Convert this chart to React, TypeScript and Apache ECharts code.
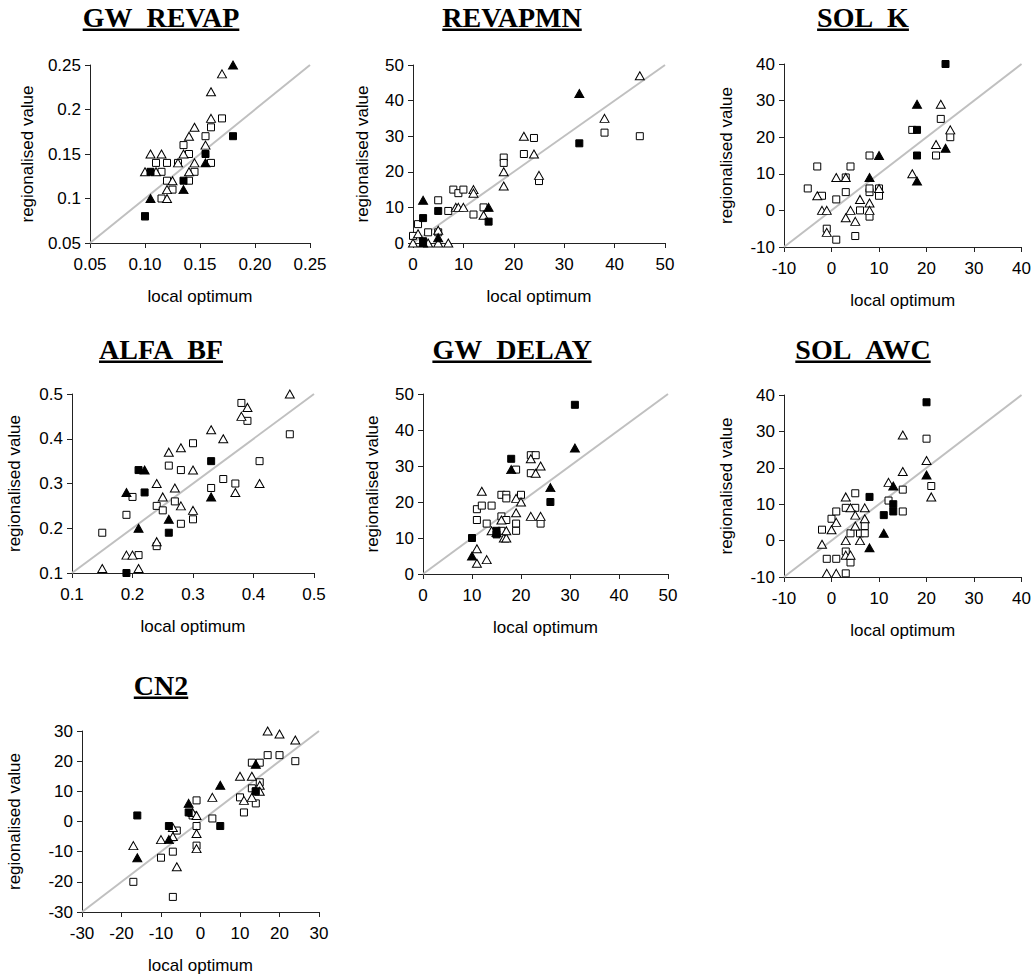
import React, { useEffect, useRef } from "react";
import * as echarts from "echarts";

// ---------- Data ----------
const panelTitles = ["GW_REVAP", "REVAPMN", "SOL_K", "ALFA_BF", "GW_DELAY", "SOL_AWC", "CN2"];
const xAxisName = "local optimum";
const yAxisName = "regionalised value";
// [min, max, interval]
const axisRanges = [
  [0.05, 0.25, 0.05],
  [0, 50, 10],
  [-10, 40, 10],
  [0.1, 0.5, 0.1],
  [0, 50, 10],
  [-10, 40, 10],
  [-30, 30, 10],
];

// GW_REVAP
const gwRevapOpenSq = [[0.11,0.14],[0.12,0.14],[0.12,0.12],[0.115,0.13],[0.115,0.10],[0.125,0.11],[0.13,0.14],[0.135,0.16],[0.14,0.15],[0.14,0.12],[0.145,0.13],[0.155,0.17],[0.16,0.18],[0.16,0.14],[0.17,0.19],[0.10,0.08]];
const gwRevapOpenTri = [[0.10,0.13],[0.105,0.15],[0.115,0.15],[0.11,0.13],[0.12,0.10],[0.12,0.11],[0.125,0.12],[0.13,0.14],[0.135,0.15],[0.14,0.17],[0.145,0.18],[0.14,0.13],[0.145,0.14],[0.155,0.16],[0.16,0.19],[0.16,0.22],[0.17,0.24]];
const gwRevapFilledSq = [[0.105,0.13],[0.135,0.12],[0.155,0.15],[0.18,0.17],[0.10,0.08]];
const gwRevapFilledTri = [[0.105,0.10],[0.135,0.11],[0.155,0.14],[0.18,0.25]];

// REVAPMN
const revapmnOpenSq = [[0,2],[1,5.3],[3,3],[5,12],[5,3],[7,9],[8,15],[9,14],[10,15],[12,8],[14,10],[18,24],[18,22.5],[22,25],[24,29.5],[25,17.4],[38,31],[45,30]];
const revapmnOpenTri = [[0,0],[1,2.6],[3,0],[5,3.6],[5,0],[7,0],[8.5,10],[9,10],[10,10],[12,15],[12,14],[14,7.8],[18,16],[18,20],[22,30],[24,25],[25,19],[38,35],[45,47]];
const revapmnFilledSq = [[2,7],[5,9],[15,6],[33,28],[2,0.5]];
const revapmnFilledTri = [[2,12],[15,10],[33,42],[5,1.5],[2,0]];

// SOL_K
const solKOpenSq = [[-5,6],[-3,12],[-2,4],[-1,-5],[1,3],[1,-8],[3,5],[3,9],[4,12],[5,-7],[6,0],[8,15],[8,5],[8,-1.7],[8,6],[10,4],[10,6],[17,22],[22,15],[23,25],[25,20]];
const solKOpenTri = [[-3,4],[-2,0],[-1,0],[-1,-6],[1,9],[3,9],[3,-2],[4,0],[5,-3],[6,3],[8,2],[8,0],[10,6],[17,10],[22,18],[23,29],[25,22]];
const solKFilledSq = [[18,22],[18,15],[24,40]];
const solKFilledTri = [[8,9],[10,15],[18,29],[18,8],[24,17]];

// ALFA_BF
const alfaBfOpenSq = [[0.15,0.19],[0.19,0.23],[0.20,0.27],[0.21,0.14],[0.24,0.25],[0.24,0.16],[0.25,0.24],[0.26,0.34],[0.27,0.26],[0.28,0.33],[0.28,0.21],[0.30,0.39],[0.30,0.22],[0.33,0.29],[0.35,0.31],[0.37,0.30],[0.38,0.48],[0.39,0.44],[0.41,0.35],[0.46,0.41]];
const alfaBfOpenTri = [[0.15,0.11],[0.19,0.14],[0.20,0.14],[0.21,0.11],[0.24,0.30],[0.24,0.17],[0.25,0.27],[0.26,0.37],[0.27,0.29],[0.28,0.38],[0.28,0.25],[0.30,0.33],[0.30,0.24],[0.33,0.42],[0.35,0.40],[0.37,0.28],[0.38,0.45],[0.39,0.47],[0.41,0.30],[0.46,0.50]];
const alfaBfFilledSq = [[0.19,0.10],[0.21,0.33],[0.22,0.28],[0.26,0.19],[0.33,0.35]];
const alfaBfFilledTri = [[0.19,0.28],[0.22,0.33],[0.21,0.20],[0.26,0.22],[0.33,0.27]];

// GW_DELAY
const gwDelayOpenSq = [[11,15],[11,18],[12,19],[14,19],[13,14],[16,16],[16,22],[17,22],[17,21],[17,15],[16,12],[19,29],[19,14],[19,12],[20,22],[22,28],[22,33],[23,33],[24,14]];
const gwDelayOpenTri = [[11,7],[11,3],[13,4],[12,23],[14,12],[16,15],[16.5,10],[17,10],[17,12],[19,17],[19,21],[20,20],[22,16],[22,32],[23,28],[24,30],[24,16]];
const gwDelayFilledSq = [[10,10],[15,12],[15,11],[18,32],[26,20],[31,47]];
const gwDelayFilledTri = [[10,5],[18,29],[26,24],[31,35],[15,11.5]];

// SOL_AWC
const solAwcOpenSq = [[-2,3],[-1,-5],[0,6],[1,8],[1,-5],[3,9],[3,-3],[3,-9],[4,2],[4,-6],[5,13],[5,9],[6,2],[7,2],[7,4],[12,11],[15,14],[15,8],[20,28],[21,15]];
const solAwcOpenTri = [[-2,-1],[-1,-9],[0,3],[1,5],[1,-9],[3,12],[3,0],[3,-4],[4,9],[4,-4],[5,7],[5,4],[6,0],[7,9],[7,6],[12,16],[15,19],[15,29],[20,22],[21,12]];
const solAwcFilledSq = [[8,12],[11,7],[13,10],[13,8],[20,38]];
const solAwcFilledTri = [[8,-2],[11,2],[13,15],[20,18]];

// CN2
const cn2OpenSq = [[-17,-20],[-10,-12],[-7,-10],[-7,-25],[-6,-3],[-2,2],[-1,7],[-1,-1.5],[-1,-8],[3,1],[10,8],[11,3],[13,19.5],[13,11],[14,6],[15,19.5],[15,13],[17,22],[20,22],[24,20],[14,10]];
const cn2OpenTri = [[-17,-8],[-10,-6],[-7,-2],[-7,-5],[-6,-15],[-2,3],[-1,2],[-1,-4],[-1,-9],[3,8],[10,15],[11,7],[13,15],[13,8],[15,12],[15,10],[17,30],[20,29],[24,27]];
const cn2FilledSq = [[-16,2],[-8,-1.5],[-3,3],[5,-1.5],[14,10]];
const cn2FilledTri = [[-16,-12],[-8,-6],[-3,6],[5,12],[14,19]];

const panelData = [
  [gwRevapOpenSq, gwRevapOpenTri, gwRevapFilledSq, gwRevapFilledTri],
  [revapmnOpenSq, revapmnOpenTri, revapmnFilledSq, revapmnFilledTri],
  [solKOpenSq, solKOpenTri, solKFilledSq, solKFilledTri],
  [alfaBfOpenSq, alfaBfOpenTri, alfaBfFilledSq, alfaBfFilledTri],
  [gwDelayOpenSq, gwDelayOpenTri, gwDelayFilledSq, gwDelayFilledTri],
  [solAwcOpenSq, solAwcOpenTri, solAwcFilledSq, solAwcFilledTri],
  [cn2OpenSq, cn2OpenTri, cn2FilledSq, cn2FilledTri],
];

// ---------- Layout ----------
const gridBoxes = [
  { left: 90, top: 65, width: 220, height: 178 },
  { left: 413, top: 65, width: 252, height: 178 },
  { left: 784, top: 64, width: 239, height: 183 },
  { left: 72, top: 394, width: 242, height: 179 },
  { left: 423, top: 394, width: 245, height: 180 },
  { left: 784, top: 395, width: 239, height: 182 },
  { left: 82, top: 731, width: 237, height: 181 },
];
const yNameGaps = [54, 42, 49, 49, 42, 49, 59];
const titleCenters = [
  [161, 17], [512, 17], [863, 17],
  [161, 349], [512, 349], [863, 349],
  [161, 685],
];

const SANS = '"Liberation Sans", Arial, sans-serif';
const SERIF_FONT = 'bold 28px "Liberation Serif", "Times New Roman", serif';
const FS = 17;

export default function App() {
  const ref = useRef<HTMLDivElement>(null);

  useEffect(() => {
    if (!ref.current) return;
    const chart = echarts.init(ref.current, undefined, { renderer: "svg" });

    const canvas = document.createElement("canvas");
    const ctx = canvas.getContext("2d");
    if (ctx) ctx.font = SERIF_FONT;

    const grids: any[] = [];
    const xAxes: any[] = [];
    const yAxes: any[] = [];
    const series: any[] = [];
    const graphics: any[] = [];

    const axisCommon = {
      type: "value",
      axisLine: { show: true, onZero: false, lineStyle: { color: "#222", width: 1 } },
      axisTick: { show: true, inside: false, length: 5, lineStyle: { color: "#222" } },
      splitLine: { show: false },
      nameLocation: "middle",
      nameTextStyle: { fontSize: FS, color: "#000", fontFamily: SANS },
    };

    panelTitles.forEach((title, i) => {
      const [mn, mx, iv] = axisRanges[i];
      grids.push({ ...gridBoxes[i], containLabel: false });
      xAxes.push({
        ...axisCommon,
        gridIndex: i,
        min: mn,
        max: mx,
        interval: iv,
        name: xAxisName,
        nameGap: 45,
        axisLabel: {
          fontSize: FS,
          color: "#000",
          fontFamily: SANS,
          margin: 13,
          formatter: i === 0 ? (v: number) => v.toFixed(2) : undefined,
        },
      });
      yAxes.push({
        ...axisCommon,
        gridIndex: i,
        min: mn,
        max: mx,
        interval: iv,
        name: yAxisName,
        nameGap: yNameGaps[i],
        axisLabel: { fontSize: FS, color: "#000", fontFamily: SANS, margin: 9 },
      });

      series.push({
        type: "line",
        xAxisIndex: i,
        yAxisIndex: i,
        data: [[mn, mn], [mx, mx]],
        symbol: "none",
        lineStyle: { color: "#c0c0c0", width: 2 },
        z: 1,
        silent: true,
      });
      const [oSq, oTri, fSq, fTri] = panelData[i];
      const marker = (data: number[][], sym: string, filled: boolean, size: any) => ({
        type: "scatter",
        xAxisIndex: i,
        yAxisIndex: i,
        data,
        symbol: sym,
        symbolSize: size,
        itemStyle: {
          color: filled ? "#000" : "#fff",
          borderColor: "#000",
          borderWidth: 1,
          opacity: 1,
        },
        z: 3,
      });
      series.push(marker(oSq, "rect", false, 7));
      series.push(marker(oTri, "triangle", false, [9, 8]));
      series.push(marker(fSq, "rect", true, 7));
      series.push(marker(fTri, "triangle", true, [9, 8]));

      const [cx, cy] = titleCenters[i];
      const w = ctx ? ctx.measureText(title).width : title.length * 20;
      graphics.push({
        type: "text",
        x: cx,
        y: cy,
        style: {
          text: title,
          font: SERIF_FONT,
          fill: "#000",
          align: "center",
          verticalAlign: "middle",
          textAlign: "center",
          textVerticalAlign: "middle",
        },
      });
      graphics.push({
        type: "rect",
        shape: { x: cx - w / 2, y: cy + 11.5, width: w, height: 2.5 },
        style: { fill: "#000" },
      });
    });

    chart.setOption({
      animation: false,
      backgroundColor: "#fff",
      grid: grids,
      xAxis: xAxes,
      yAxis: yAxes,
      series,
      graphic: graphics,
    });

    return () => chart.dispose();
  }, []);

  return (
    <div
      ref={ref}
      style={{ position: "absolute", left: 0, top: 0, width: 1034, height: 978, background: "#fff" }}
    />
  );
}
